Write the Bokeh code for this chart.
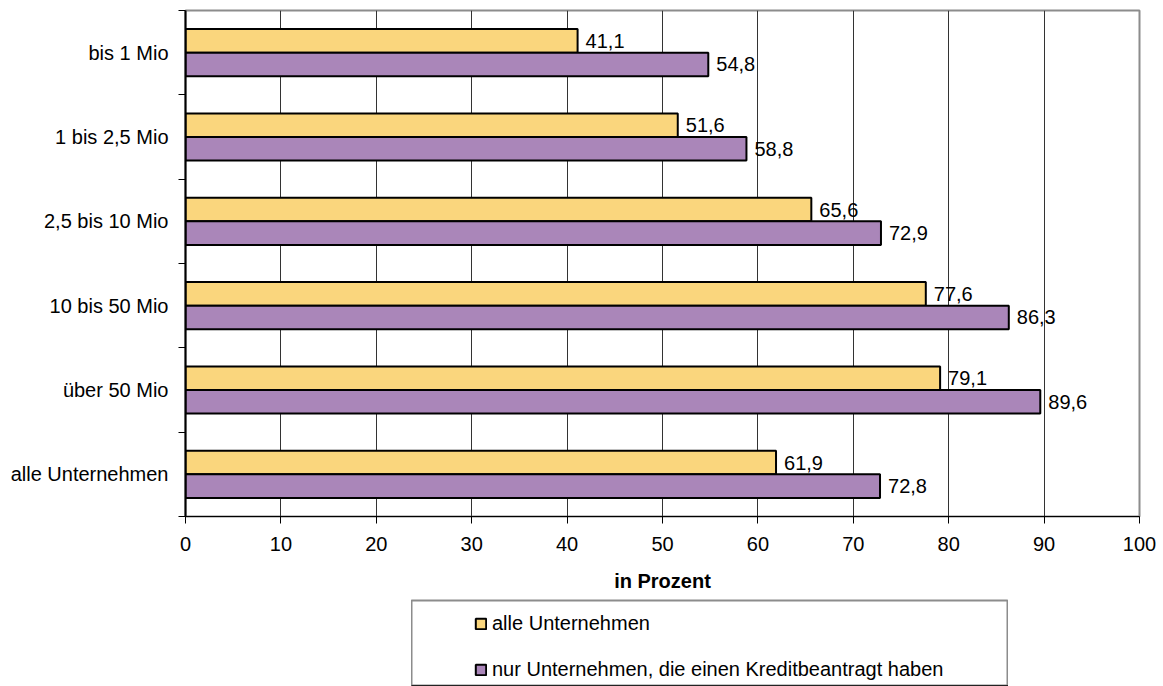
from bokeh.plotting import figure
from bokeh.models import (Range1d, FixedTicker, ColumnDataSource, Legend, LegendItem, Spacer)
from bokeh.layouts import column, row
from bokeh.core.properties import value
from bokeh.embed import file_html
from bokeh.resources import INLINE

categories = ["bis 1 Mio", "1 bis 2,5 Mio", "2,5 bis 10 Mio", "10 bis 50 Mio", "über 50 Mio", "alle Unternehmen"]
alle = [41.1, 51.6, 65.6, 77.6, 79.1, 61.9]
kredit = [54.8, 58.8, 72.9, 86.3, 89.6, 72.8]
series_names = ["alle Unternehmen", "nur Unternehmen, die einen Kreditbeantragt haben"]
x_ticks = [0, 10, 20, 30, 40, 50, 60, 70, 80, 90, 100]

FONT = "Liberation Sans"
YELLOW = "#FAD67D"
PURPLE = "#AA86B9"
n = len(categories)
centers = [n - 0.5 - i for i in range(n)]
BAR_H = 0.28

def fmt(v):
    return f"{v:.1f}".replace(".", ",")

src_a = ColumnDataSource(dict(y=[c + BAR_H / 2 for c in centers], v=alle, lab=[fmt(v) for v in alle]))
src_k = ColumnDataSource(dict(y=[c - BAR_H / 2 for c in centers], v=kredit, lab=[fmt(v) for v in kredit]))

p = figure(output_backend="svg", toolbar_location=None,
           x_range=Range1d(0, 100), y_range=Range1d(0, n),
           frame_width=954, frame_height=506,
           min_border_left=185, min_border_right=24, min_border_top=10, min_border_bottom=82,
           background_fill_color="white", border_fill_color="white")
p.outline_line_color = "#8c8c8c"
p.outline_line_width = 2

ra = p.hbar(y="y", left=0, right="v", height=BAR_H, source=src_a,
            fill_color=YELLOW, line_color="black", line_width=2)
rk = p.hbar(y="y", left=0, right="v", height=BAR_H, source=src_k,
            fill_color=PURPLE, line_color="black", line_width=2)

for s in (src_a, src_k):
    p.text(x="v", y="y", text="lab", source=s, x_offset=8,
           text_align="left", text_baseline="middle",
           text_font=value(FONT), text_font_size="20px", text_color="black")

# x axis
xa = p.xaxis[0]
xa.ticker = FixedTicker(ticks=x_ticks)
xa.axis_line_color = "black"
xa.axis_line_width = 1
xa.major_tick_line_color = "black"
xa.major_tick_out = 7
xa.major_tick_in = 0
xa.minor_tick_line_color = None
xa.major_label_text_font = FONT
xa.major_label_text_font_size = "20px"
xa.major_label_text_color = "black"
xa.major_label_standoff = 13
xa.axis_label = "in Prozent"
xa.axis_label_text_font = FONT
xa.axis_label_text_font_size = "20px"
xa.axis_label_text_font_style = "bold"
xa.axis_label_text_color = "black"
xa.axis_label_standoff = 16

# y axis
ya = p.yaxis[0]
ya.ticker = FixedTicker(ticks=centers, minor_ticks=list(range(n + 1)))
ya.major_label_overrides = {c: cat for c, cat in zip(centers, categories)}
ya.axis_line_color = "black"
ya.axis_line_width = 2
ya.major_tick_line_color = None
ya.major_tick_out = 0
ya.major_tick_in = 0
ya.minor_tick_line_color = "black"
ya.minor_tick_out = 7
ya.minor_tick_in = 0
ya.major_label_text_font = FONT
ya.major_label_text_font_size = "20px"
ya.major_label_text_color = "black"
ya.major_label_standoff = 10

p.xgrid.ticker = FixedTicker(ticks=x_ticks)
p.xgrid.grid_line_color = "#333333"
p.xgrid.grid_line_width = 1
p.ygrid.grid_line_color = None

# legend figure (proxy bars lie outside the visible range; they only supply legend swatches)
lf = figure(output_backend="svg", toolbar_location=None,
            x_range=Range1d(0, 1), y_range=Range1d(0, 1),
            frame_width=597, frame_height=86,
            min_border_left=0, min_border_right=0, min_border_top=2, min_border_bottom=0,
            background_fill_color="white", border_fill_color="white")
lf.axis.visible = False
lf.grid.visible = False
lf.outline_line_color = "#8c8c8c"
lf.outline_line_width = 2
la = lf.hbar(y=[-10], left=[0], right=[1], height=0.1, fill_color=YELLOW, line_color="black", line_width=2)
lk = lf.hbar(y=[-10], left=[0], right=[1], height=0.1, fill_color=PURPLE, line_color="black", line_width=2)
leg = Legend(items=[LegendItem(label=series_names[0], renderers=[la]),
                    LegendItem(label=series_names[1], renderers=[lk])],
             location=(63, 5), orientation="vertical",
             glyph_width=13, glyph_height=13, label_standoff=5, spacing=23,
             padding=0, margin=0, border_line_color=None, background_fill_alpha=0,
             label_text_font=FONT, label_text_font_size="20px", label_text_color="black",
             label_height=20)
lf.add_layout(leg)

layout = column(p, row(Spacer(width=411, height=88), lf, spacing=0), spacing=0)

open("out.html", "w").write(file_html(layout, INLINE))
